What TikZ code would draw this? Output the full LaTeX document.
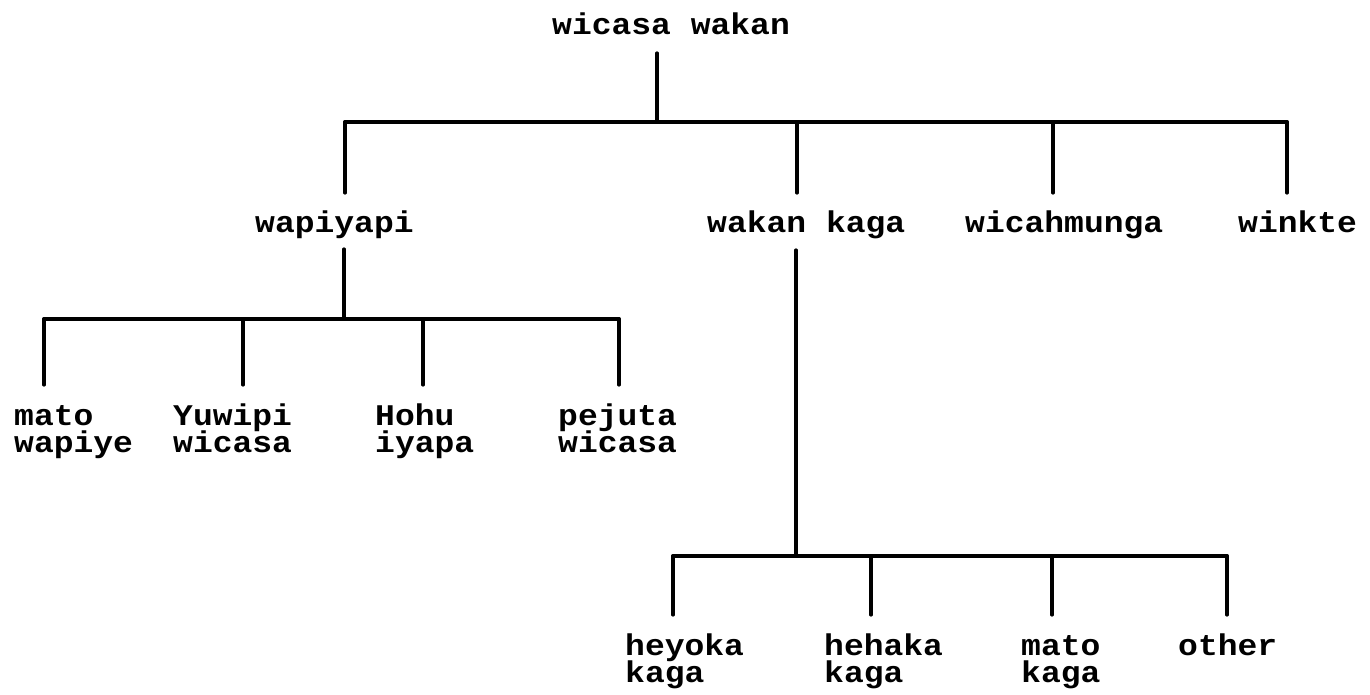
\documentclass[tikz,border=0pt]{standalone}
\usepackage{fontspec}
\setmonofont[FakeStretch=1.1]{Liberation Mono}
\newcommand\twoln[2]{\vtop{\baselineskip=27.5pt\lineskiplimit=-\maxdimen\hbox{#1}\hbox{#2}}}
\begin{document}
\begin{tikzpicture}[x=1pt,y=-1pt,
  lbl/.style={font=\ttfamily\bfseries\fontsize{30}{27.5}\selectfont,
    inner sep=0pt, anchor=base west, text height=24pt, text depth=7pt},
  conn/.style={line width=3.6pt, line cap=round, line join=round}]
\useasboundingbox[fill=white] (0,0) rectangle (1370,695);

% nodes
\node[lbl] (root) at (552,35) {wicasa wakan};
\node[lbl] (wap) at (255,233) {wapiyapi};
\node[lbl] (wk) at (707,233) {wakan kaga};
\node[lbl] (wic) at (965,233) {wicahmunga};
\node[lbl] (win) at (1238,233) {winkte};
\node[lbl] (mw) at (14,425) {\twoln{mato}{wapiye}};
\node[lbl] (yw) at (173,425) {\twoln{Yuwipi}{wicasa}};
\node[lbl] (hi) at (375,425) {\twoln{Hohu}{iyapa}};
\node[lbl] (pw) at (558,425) {\twoln{pejuta}{wicasa}};
\node[lbl] (hk) at (625,655) {\twoln{heyoka}{kaga}};
\node[lbl] (hhk) at (824,655) {\twoln{hehaka}{kaga}};
\node[lbl] (mk) at (1021,655) {\twoln{mato}{kaga}};
\node[lbl] (oth) at (1178,655) {other};

% junction coordinates
\coordinate (a0) at (657,122);
\coordinate (a1) at (345,122);
\coordinate (a2) at (797,122);
\coordinate (a3) at (1053,122);
\coordinate (a4) at (1287,122);

\coordinate (b0) at (344,319);
\coordinate (b1) at (44,319);
\coordinate (b2) at (243,319);
\coordinate (b3) at (423,319);
\coordinate (b4) at (619,319);

\coordinate (c0) at (796,556);
\coordinate (c1) at (673,556);
\coordinate (c2) at (871,556);
\coordinate (c3) at (1052,556);
\coordinate (c4) at (1227,556);

% level 1
\draw[conn] ([yshift=-11pt]root.south -| a0) -- (a0);
\draw[conn] (a1) -- (a4);
\draw[conn] (a1) -- ([yshift=16pt]wap.north -| a1);
\draw[conn] (a2) -- ([yshift=16pt]wk.north -| a2);
\draw[conn] (a3) -- ([yshift=16pt]wic.north -| a3);
\draw[conn] (a4) -- ([yshift=16pt]win.north -| a4);

% level 2 (wapiyapi)
\draw[conn] ([yshift=-9pt]wap.south -| b0) -- (b0);
\draw[conn] (b1) -- (b4);
\draw[conn] (b1) -- ([yshift=16pt]mw.north -| b1);
\draw[conn] (b2) -- ([yshift=16pt]yw.north -| b2);
\draw[conn] (b3) -- ([yshift=16pt]hi.north -| b3);
\draw[conn] (b4) -- ([yshift=16pt]pw.north -| b4);

% level 2 (wakan kaga)
\draw[conn] ([yshift=-10pt]wk.south -| c0) -- (c0);
\draw[conn] (c1) -- (c4);
\draw[conn] (c1) -- ([yshift=16pt]hk.north -| c1);
\draw[conn] (c2) -- ([yshift=16pt]hhk.north -| c2);
\draw[conn] (c3) -- ([yshift=16pt]mk.north -| c3);
\draw[conn] (c4) -- ([yshift=16pt]oth.north -| c4);
\end{tikzpicture}
\end{document}
